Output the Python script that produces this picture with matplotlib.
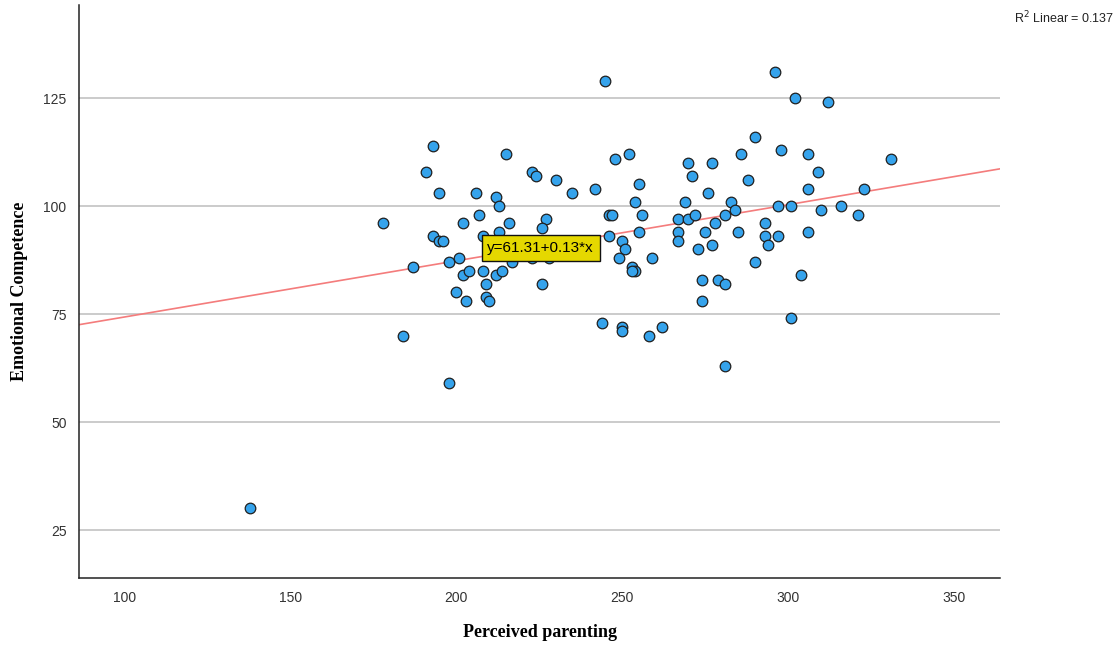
import matplotlib
matplotlib.use("Agg")
import matplotlib.pyplot as plt

# scores (perceived parenting, emotional competence)
parenting = [138, 178, 184, 187, 191, 193, 195, 193, 195, 196,
             198, 198, 200, 201, 202, 202, 203, 204, 206, 207,
             208, 209, 209, 210, 212, 214, 212, 213, 215, 216,
             213, 208, 217, 223, 224, 230, 235, 242, 245, 227,
             226, 226, 223, 228, 246, 247, 246, 248, 252, 255,
             254, 256, 255, 250, 251, 249, 259, 253, 254, 253,
             244, 250, 250, 258, 262, 267, 267, 267, 269, 270,
             277, 271, 276, 270, 272, 278, 273, 277, 275, 274,
             279, 281, 274, 281, 281, 283, 284, 285, 286, 288,
             290, 290, 293, 293, 294, 297, 297, 298, 296, 301,
             301, 302, 304, 306, 306, 306, 309, 310, 312, 316,
             321, 323, 331, 218, 234]
competence = [30, 96, 70, 86, 108, 114, 103, 93, 92, 92,
              87, 59, 80, 88, 96, 84, 78, 85, 103, 98,
              85, 82, 79, 78, 84, 85, 102, 100, 112, 96,
              94, 93, 87, 108, 107, 106, 103, 104, 129, 97,
              95, 82, 88, 88, 98, 98, 93, 111, 112, 105,
              101, 98, 94, 92, 90, 88, 88, 86, 85, 85,
              73, 72, 71, 70, 72, 97, 94, 92, 101, 110,
              110, 107, 103, 97, 98, 96, 90, 91, 94, 83,
              83, 82, 78, 63, 98, 101, 99, 94, 112, 106,
              116, 87, 96, 93, 91, 93, 100, 113, 131, 100,
              74, 125, 84, 112, 104, 94, 108, 99, 124, 100,
              98, 104, 111, 91, 90]

intercept = 61.31
slope = 0.13
r2_text = "R$^2$ Linear = 0.137"
x_ticks = [100, 150, 200, 250, 300, 350]
y_ticks = [25, 50, 75, 100, 125]

fig = plt.figure(figsize=(11.18, 6.48), dpi=100)
ax = fig.add_axes([0.0707, 0.108, 0.824, 0.884])

xmin, xmax = 86.4, 364
ax.set_xlim(xmin, xmax)
ax.set_ylim(13.9, 146.5)

ax.set_yticks(y_ticks)
ax.set_xticks(x_ticks)
ax.grid(axis='y', color='#bdbdbd', linewidth=1.1)
ax.set_axisbelow(True)

for s in ['top', 'right']:
    ax.spines[s].set_visible(False)
for s in ['left', 'bottom']:
    ax.spines[s].set_color('#222222')
    ax.spines[s].set_linewidth(1.1)

ax.tick_params(length=0, pad=9, labelsize=10, colors='#333333')
for lab in ax.get_xticklabels() + ax.get_yticklabels():
    lab.set_family(['Liberation Sans Narrow', 'Liberation Sans'])

# fit line
ax.plot([xmin, xmax], [intercept + slope * xmin, intercept + slope * xmax],
        color='#f47c7c', linewidth=1.2, zorder=2)

ax.scatter(parenting, competence, s=58, color='#35a3ec',
           edgecolors='#1f1f1f', linewidths=0.9, zorder=3)

ax.text(225.5, 90.3, "y=61.31+0.13*x", ha='center', va='center',
        fontsize=11, family='Liberation Sans', zorder=5,
        bbox=dict(boxstyle='square,pad=0.38', facecolor='#e5d800',
                  edgecolor='#111111', linewidth=1))

ax.set_xlabel("Perceived parenting", family='Liberation Serif',
              fontweight='bold', fontsize=13, labelpad=14)
ax.set_ylabel("Emotional Competence", family='Liberation Serif',
              fontweight='bold', fontsize=13, labelpad=11)

fig.text(0.997, 0.972, r2_text, ha='right', va='center', fontsize=9,
         family='Liberation Sans', color='#222222')

fig.savefig("out.png", dpi=100)
